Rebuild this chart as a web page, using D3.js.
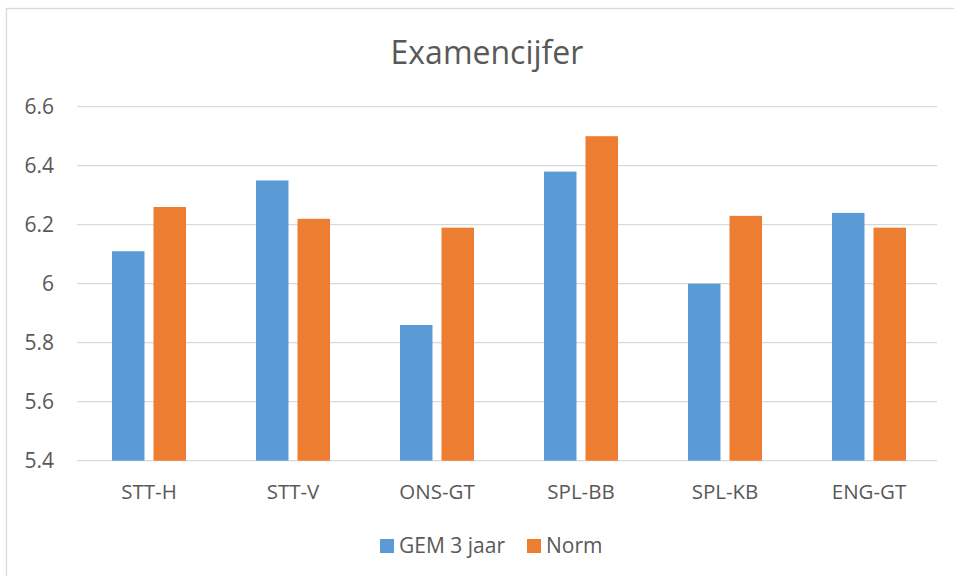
<!DOCTYPE html>
<meta charset="utf-8">
<html>
<head>
  <title>Examencijfer</title>
  <style>
    body { margin: 0; background: #fff; }
    svg { width: 954px; height: 576px; display: block; }
    text { font-family: 'Open Sans', 'Liberation Sans', sans-serif; fill: #595959; }
    .grid line { stroke: #d9d9d9; stroke-width: 1.3px; }
  </style>
  <script src="https://d3js.org/d3.v7.min.js"></script>
</head>
<body>
  <svg></svg>
  <script>
    // data
    var categories = ["STT-H", "STT-V", "ONS-GT", "SPL-BB", "SPL-KB", "ENG-GT"];
    var seriesNames = ["GEM 3 jaar", "Norm"];
    var gem3jaar = [6.11, 6.35, 5.86, 6.38, 6.00, 6.24];
    var norm = [6.26, 6.22, 6.19, 6.50, 6.23, 6.19];
    var yTicks = [5.4, 5.6, 5.8, 6.0, 6.2, 6.4, 6.6];
    var colors = ["#5b9bd5", "#ed7d31"];

    var values = [gem3jaar, norm];
    var rows = categories.map(function(c, i) {
      return { cat: c, vals: seriesNames.map(function(s, j) { return { name: s, i: j, v: values[j][i] }; }) };
    });

    var svg = d3.select("svg");

    // chart frame (only top and left edges are inside the picture)
    svg.append("rect")
      .attr("x", 6.5).attr("y", 8.5)
      .attr("width", 1000).attr("height", 1000)
      .attr("fill", "none").attr("stroke", "#d9d9d9").attr("stroke-width", 1.3);

    var plot = { left: 77, right: 941, top: 106.7, bottom: 460.7 };

    var x0 = d3.scaleBand().domain(categories).range([plot.left, plot.right]).padding(0);
    var groupW = 74;
    var x1 = d3.scaleBand().domain(seriesNames).range([0, groupW]).paddingInner(0.217);
    var y = d3.scaleLinear().domain([5.4, 6.6]).range([plot.bottom, plot.top]);

    // gridlines
    svg.append("g").attr("class", "grid")
      .selectAll("line").data(yTicks).enter().append("line")
      .attr("x1", plot.left).attr("x2", plot.right - 4)
      .attr("y1", function(d) { return y(d); })
      .attr("y2", function(d) { return y(d); });

    // y axis labels
    var yAxis = d3.axisLeft(y).tickValues(yTicks).tickSize(0).tickPadding(0)
      .tickFormat(function(d) { return String(+d.toFixed(1)); });
    var gy = svg.append("g").attr("transform", "translate(54,0)").call(yAxis);
    gy.select(".domain").remove();
    gy.selectAll("text").attr("font-size", 21).attr("font-family", null);

    // bars
    var groups = svg.append("g").selectAll("g").data(rows).enter().append("g")
      .attr("transform", function(d) { return "translate(" + (x0(d.cat) + (x0.bandwidth() - groupW) / 2) + ",0)"; });
    groups.selectAll("rect").data(function(d) { return d.vals; }).enter().append("rect")
      .attr("x", function(d) { return x1(d.name); })
      .attr("y", function(d) { return y(d.v); })
      .attr("width", x1.bandwidth())
      .attr("height", function(d) { return y(5.4) - y(d.v); })
      .attr("fill", function(d) { return colors[d.i]; });

    // x axis labels
    var xAxis = d3.axisBottom(x0).tickSize(0).tickPadding(0);
    var gx = svg.append("g").attr("transform", "translate(0,499)").call(xAxis);
    gx.select(".domain").remove();
    gx.selectAll("text").attr("font-size", 20.5).attr("dy", 0).attr("font-family", null);

    // title
    svg.append("text")
      .attr("x", 487).attr("y", 64)
      .attr("text-anchor", "middle")
      .attr("font-size", 32)
      .text("Examencijfer");

    // legend
    var legendX = [380, 527];
    var legend = svg.append("g").selectAll("g").data(seriesNames).enter().append("g")
      .attr("transform", function(d, i) { return "translate(" + legendX[i] + ",539)"; });
    legend.append("rect").attr("width", 14).attr("height", 14)
      .attr("fill", function(d, i) { return colors[i]; });
    legend.append("text").attr("x", 19).attr("y", 14).attr("font-size", 21)
      .text(function(d) { return d; });
  </script>
</body>
</html>
